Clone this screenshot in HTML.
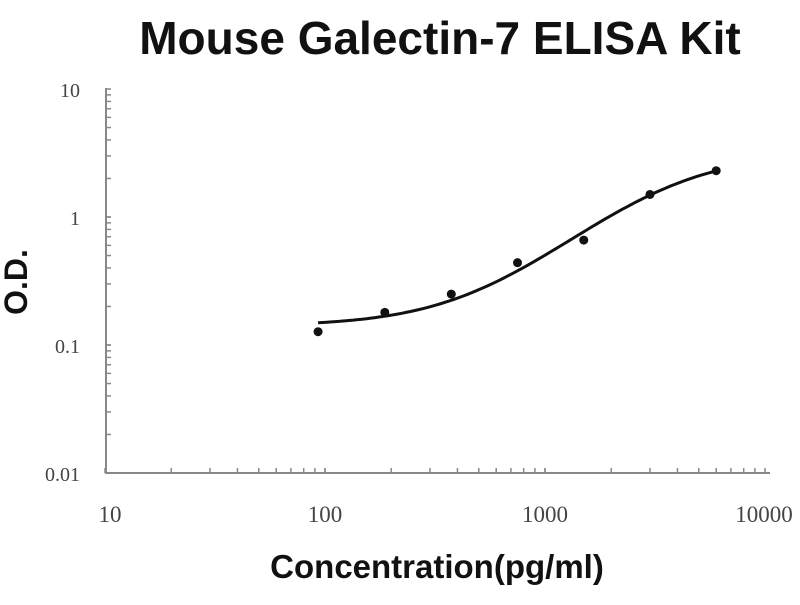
<!DOCTYPE html>
<html><head><meta charset="utf-8"><style>
body{margin:0;background:#fff;width:800px;height:600px;overflow:hidden}
</style></head><body>
<svg id="s" width="800" height="600" xmlns="http://www.w3.org/2000/svg">
<text x="440" y="54" text-anchor="middle" font-family="Liberation Sans, sans-serif" font-weight="bold" font-size="46" fill="#111">Mouse Galectin-7 ELISA Kit</text>
<text x="437" y="578" text-anchor="middle" font-family="Liberation Sans, sans-serif" font-weight="bold" font-size="33" fill="#111">Concentration(pg/ml)</text>
<text transform="translate(27,282) rotate(-90)" text-anchor="middle" font-family="Liberation Sans, sans-serif" font-weight="bold" font-size="32" fill="#111">O.D.</text>
<g id="ax" stroke="#888" stroke-width="2" fill="none"></g>
<g font-family="Liberation Serif, serif" font-size="20" fill="#444">
<text x="80" y="97" text-anchor="end">10</text>
<text x="80" y="225" text-anchor="end">1</text>
<text x="80" y="353" text-anchor="end">0.1</text>
<text x="80" y="481" text-anchor="end">0.01</text>
</g>
<g font-family="Liberation Serif, serif" font-size="23" fill="#444">
<text x="110" y="522" text-anchor="middle">10</text>
<text x="325" y="522" text-anchor="middle">100</text>
<text x="545" y="522" text-anchor="middle">1000</text>
<text x="764" y="522" text-anchor="middle">10000</text>
</g>
<path id="c" stroke="#111" stroke-width="3" fill="none"/>
<g id="pts" fill="#111"></g>
</svg>
<script>
var X=function(v){return 105+220*Math.log10(v/10)},Y=function(v){return 473-128*Math.log10(v/0.01)};
var ax='<line x1="106" y1="88" x2="106" y2="473"/><line x1="105" y1="473" x2="770" y2="473"/>';
for(var d=0;d<3;d++)for(var k=1;k<=10;k++){var v=0.01*Math.pow(10,d)*k;var y=Y(v);ax+='<line x1="106" y1="'+y+'" x2="111" y2="'+y+'" stroke-width="1.5"/>';}
for(var d=0;d<3;d++)for(var k=1;k<=10;k++){var v=10*Math.pow(10,d)*k;var x=X(v);ax+='<line x1="'+x+'" y1="473" x2="'+x+'" y2="468" stroke-width="1.5"/>';}
document.getElementById('ax').innerHTML=ax;
var p='';for(var lx=Math.log10(93);lx<=Math.log10(6200);lx+=0.02){var c=Math.pow(10,lx);var o=3.2-3.06/(1+Math.pow(c/3500,1.6));p+=(p?'L':'M')+X(c).toFixed(1)+','+Y(o).toFixed(1);}
document.getElementById('c').setAttribute('d',p);
var d=[[93,0.127],[187,0.18],[375,0.25],[750,0.44],[1500,0.66],[3000,1.5],[6000,2.3]],h='';
d.forEach(function(q){h+='<circle cx="'+X(q[0])+'" cy="'+Y(q[1])+'" r="4.5"/>';});
document.getElementById('pts').innerHTML=h;
</script>
</body></html>
